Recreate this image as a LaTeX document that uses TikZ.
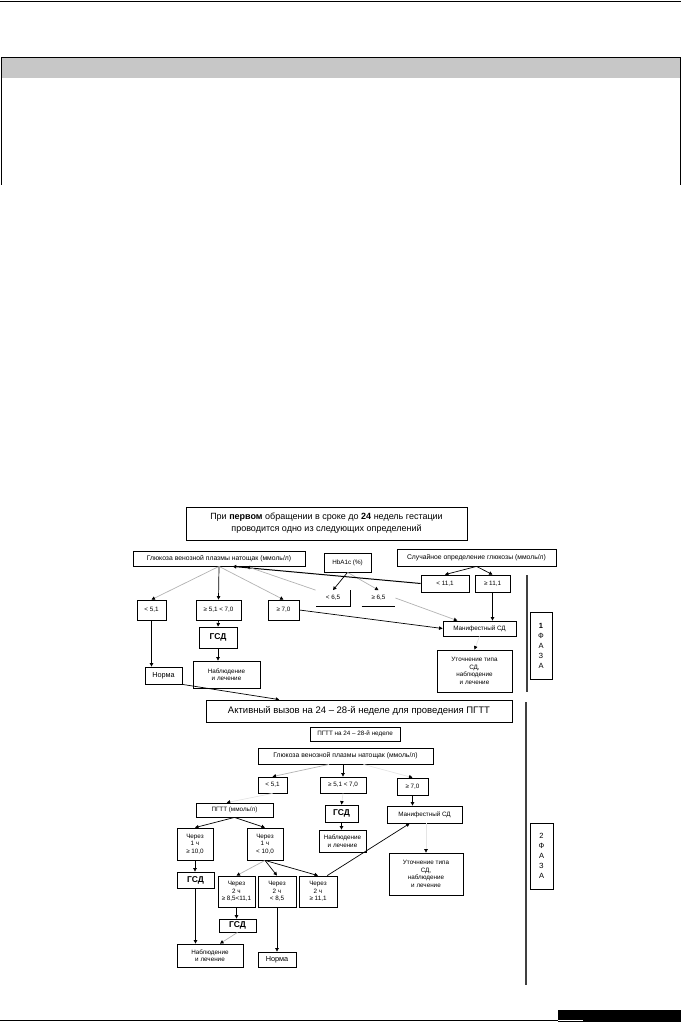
\documentclass[tikz,border=0pt]{standalone}
\usepackage{fontspec}
\setmainfont{Liberation Sans}
\usetikzlibrary{arrows.meta, calc}

\tikzset{
  blk/.style={draw, line width=0.8pt, align=center, inner sep=1pt, font=\fontsize{6.3}{7.5}\selectfont},
  sz/.style 2 args={minimum width=#1pt, minimum height=#2pt},
  arr/.style={-{Triangle[length=3.5pt,width=3.5pt,color=black]}, line width=0.7pt},
  pale/.style={arr, draw=gray!60},
  faint/.style={arr, draw=gray!20},
  bigtxt/.style={font=\fontsize{9}{12}\selectfont},
  gsdtxt/.style={font=\fontsize{8.5}{9}\selectfont\bfseries},
  longtxt/.style={font=\fontsize{6.8}{8}\selectfont},
}

\begin{document}
\begin{tikzpicture}[x=1pt, y=-1pt]
    \useasboundingbox (0,0) rectangle (681,1024);
    % шапка страницы
    \draw[line width=1pt] (0,1.5) -- (681,1.5);
    \fill[black!22] (1,58) rectangle (680,78);
    \draw[line width=0.8pt] (1,185) -- (1,57) -- (680,57) -- (680,185);

    % 1 фаза
    \node[blk, sz={281}{33}, bigtxt] (tit) at (326.5,523.5) {При \textbf{первом} обращении в сроке до \textbf{24} недель гестации\\проводится одно из следующих определений};
    \node[blk, sz={172}{15}, longtxt] (glu) at (219,558.5) {Глюкоза венозной плазмы натощак (ммоль/л)};
    \node[blk, sz={47}{19}] (hba) at (347.5,562.5) {HbA1c (\%)};
    \node[blk, sz={159}{17}, longtxt] (rnd) at (476.5,557.5) {Случайное определение глюкозы (ммоль/л)};
    \node[blk, sz={48}{17}] (lt11) at (445,583.5) {< 11,1};
    \node[blk, sz={35}{17}] (ge11) at (492.5,583.5) {≥ 11,1};
    \node[blk, draw=none, sz={34}{15}] (lt65) at (333,598) {< 6,5};
    \node[blk, draw=none, sz={33}{15}] (ge65) at (378.5,598) {≥ 6,5};
    \draw[line width=0.8pt] (lt65.north east) -- (lt65.south east) -- (lt65.south west);
    \draw[line width=0.8pt] (ge65.south west) -- (ge65.south east);
    \node[blk, sz={29}{20}] (lt51) at (151.5,610) {< 5,1};
    \node[blk, sz={45}{20}] (mid) at (218.5,610) {≥ 5,1 < 7,0};
    \node[blk, sz={31}{20}] (ge70) at (283.5,610) {≥ 7,0};
    \node[blk, sz={73}{15}] (man) at (479.5,628.5) {Манифестный СД};
    \node[blk, sz={75}{42}] (utoch) at (474.5,671) {Уточнение типа\\СД,\\наблюдение\\и лечение};
    \node[blk, sz={38}{21}, gsdtxt] (gsd) at (218,637.5) {ГСД};
    \node[blk, sz={67}{27}] (nab) at (226.5,674.5) {Наблюдение\\и лечение};
    \node[blk, sz={37}{17}, font=\fontsize{7.3}{8}\selectfont] (norm) at (163.5,675.5) {Норма};
    \node[blk, sz={22}{67}, font=\fontsize{7.5}{10}\selectfont] (ph1) at (541,645.5) {\textbf{1}\\Ф\\А\\З\\А};

    % стрелки 1 фазы
    \draw[pale] (glu.south) -- (lt51.north);
    \draw[arr] (glu.south) -- (mid.north);
    \draw[pale] (glu.south) -- (ge70.north);
    \draw[arr] (hba.south) -- (lt65.north);
    \draw[pale] (hba.south) -- (ge65.north);
    \draw[arr] (rnd.south) -- (lt11.north);
    \draw[arr] (rnd.south) -- (ge11.north);
    \draw[arr, line width=1pt] (lt11.west) -- (glu.-30);
    \draw[pale] (lt65.north west) -- (glu.-16);
    \coordinate (manin) at ($(man.north west)!0.2!(man.north east)$);
    \draw[pale] (ge65.east) -- (manin);
    \draw[arr] (ge70.east) -- (man.west);
    \draw[arr] (ge11.south) -- (ge11.south |- man.north);
    \draw[faint] (man.south) -- (utoch.north);
    \draw[arr] (mid.south) -- (gsd.north);
    \draw[arr] (gsd.south) -- (gsd.south |- nab.north);
    \draw[arr] (lt51.south) -- (lt51.south |- norm.north);

    % 2 фаза
    \node[blk, sz={306}{22}, font=\fontsize{9.5}{12}\selectfont] (act) at (359,711) {Активный вызов на 24 – 28-й неделе для проведения ПГТТ};
    \node[blk, sz={90}{14}] (pgtt) at (355,734) {ПГТТ на 24 – 28-й неделе};
    \node[blk, sz={175}{16}, longtxt] (glub) at (345.5,756) {Глюкоза венозной плазмы натощак (ммоль/л)};
    \node[blk, sz={29}{16}] (blt51) at (272.5,785) {< 5,1};
    \node[blk, sz={46}{16}] (bmid) at (343,785) {≥ 5,1 < 7,0};
    \node[blk, sz={31}{17}] (bge70) at (412.5,786.5) {≥ 7,0};
    \node[blk, sz={77}{14}] (bpgtt) at (234.5,810) {ПГТТ (ммоль/л)};
    \node[blk, sz={33}{17}, gsdtxt] (bgsd) at (341.5,813.5) {ГСД};
    \node[blk, sz={47}{22}] (bnab) at (342.5,841) {Наблюдение\\и лечение};
    \node[blk, sz={75}{17}] (bman) at (424.5,814.5) {Манифестный СД};
    \node[blk, sz={36}{32}] (h1a) at (195,844) {Через\\1 ч\\≥ 10,0};
    \node[blk, sz={36}{32}] (h1b) at (265,844) {Через\\1 ч\\< 10,0};
    \node[blk, sz={74}{42}] (butoch) at (426,874) {Уточнение типа\\СД,\\наблюдение\\и лечение};
    \node[blk, sz={37}{16}, gsdtxt] (bgsd2) at (195.5,880) {ГСД};
    \node[blk, sz={37}{31}] (h2a) at (236.5,891.5) {Через\\2 ч\\≥ 8,5<11,1};
    \node[blk, sz={38}{31}] (h2b) at (277,891.5) {Через\\2 ч\\< 8,5};
    \node[blk, sz={38}{31}] (h2c) at (318,891.5) {Через\\2 ч\\≥ 11,1};
    \node[blk, sz={37}{13}, gsdtxt] (bgsd3) at (237.5,925.5) {ГСД};
    \node[blk, sz={66}{23}] (bnab2) at (210,955.5) {Наблюдение\\и лечение};
    \node[blk, sz={38}{15}, font=\fontsize{7.3}{8}\selectfont] (bnorm) at (277,959.5) {Норма};
    \node[blk, sz={23}{66}, font=\fontsize{7.5}{10}\selectfont] (ph2) at (541.5,856) {2\\Ф\\А\\З\\А};

    % переход к 2 фазе
    \coordinate (actin) at ($(act.north west)!0.24!(act.north east)$);
    \draw[arr] (norm.south east) -- (actin);

    % стрелки 2 фазы
    \draw[pale] (glub.-153) -- (blt51.north);
    \draw[arr] (bmid.north |- glub.south) -- (bmid.north);
    \draw[faint] (glub.-25) -- (bge70.north);
    \draw[arr] (bge70.south) -- (bge70.south |- bman.north);
    \coordinate (pgttin) at ($(bpgtt.north west)!0.4!(bpgtt.north east)$);
    \draw[faint] (blt51.south) -- (pgttin);
    \draw[faint] (bmid.south) -- (bgsd.north);
    \draw[arr] (bgsd.south) -- (bgsd.south |- bnab.north);
    \draw[arr] (bpgtt.south) -- (h1a.north);
    \draw[arr] (bpgtt.south) -- (h1b.north);
    \draw[arr] (h1a.south) -- (h1a.south |- bgsd2.north);
    \draw[arr] (bgsd2.south) -- (bgsd2.south |- bnab2.north);
    \draw[pale] (h1b.south) -- (h2a.north);
    \draw[arr] (h1b.south) -- (h2b.north);
    \draw[arr] (h1b.south) -- (h2c.north);
    \draw[arr] (h2a.south) -- (h2a.south |- bgsd3.north);
    \coordinate (nabin) at ($(bnab2.north west)!0.65!(bnab2.north east)$);
    \draw[pale] (bgsd3.south) -- (nabin);
    \draw[arr] (h2b.south) -- (h2b.south |- bnorm.north);
    \draw[arr] (h2c.60) -- (bman.-149);
    \draw[faint] (butoch.north |- bman.south) -- (butoch.north);

    % разделители фаз
    \draw[line width=1.6pt, black!75] (527,575) -- (527,692);
    \draw[line width=1.6pt, black!75] (526,702) -- (526,985);

    % низ страницы
    \draw[line width=0.8pt] (0,1020) -- (560,1020);
    \fill (558,1010) rectangle (681,1022);
    \draw[white, line width=0.6pt] (558,1020) -- (583,1020);
\end{tikzpicture}
\end{document}
